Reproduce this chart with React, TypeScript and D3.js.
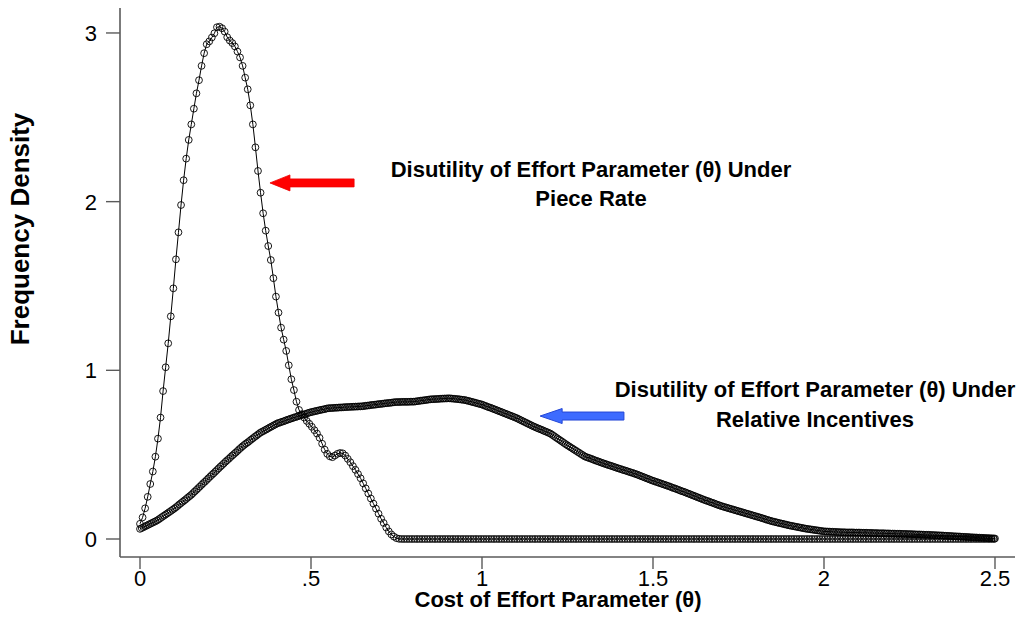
import React from 'react';
import * as d3 from 'd3';

// ---- Axis ticks ----
const xTicks = [0, 0.5, 1, 1.5, 2, 2.5];
const xTickLabels = ['0', '.5', '1', '1.5', '2', '2.5'];
const yTicks = [0, 1, 2, 3];
const yTickLabels = ['0', '1', '2', '3'];

// ---- Piece rate density (evaluated every 0.0075 of theta, starting at 0) ----
const prStep = 0.0075;
const prDensity = [
  0.09, 0.128, 0.182, 0.25, 0.326, 0.40, 0.488, 0.595, 0.72, 0.877,
  1.018, 1.16, 1.32, 1.486, 1.658, 1.818, 1.98, 2.127, 2.255, 2.366,
  2.458, 2.551, 2.642, 2.72, 2.805, 2.88, 2.933, 2.95, 2.973, 2.998,
  3.034, 3.037, 3.028, 3.008, 2.975, 2.955, 2.94, 2.92, 2.89, 2.855,
  2.805, 2.735, 2.666, 2.571, 2.458, 2.322, 2.182, 2.053, 1.931, 1.828,
  1.737, 1.654, 1.546, 1.437, 1.342, 1.253, 1.182, 1.115, 1.03, 0.947,
  0.883, 0.814, 0.765, 0.74, 0.72, 0.70, 0.683, 0.665, 0.645, 0.625,
  0.60, 0.565, 0.53, 0.505, 0.49, 0.485, 0.495, 0.505, 0.51, 0.508,
  0.495, 0.475, 0.455, 0.432, 0.41, 0.385, 0.36, 0.33, 0.30, 0.27,
  0.24, 0.21, 0.18, 0.15, 0.12, 0.095, 0.068, 0.045, 0.027, 0.014,
  0.005, 0.001,
  0, 0, 0, 0, 0, 0, 0, 0, 0, 0, 0, 0, 0, 0, 0, 0, 0, 0, 0, 0,
  0, 0, 0, 0, 0, 0, 0, 0, 0, 0, 0, 0, 0, 0, 0, 0, 0, 0, 0, 0,
  0, 0, 0, 0, 0, 0, 0, 0, 0, 0, 0, 0, 0, 0, 0, 0, 0, 0, 0, 0,
  0, 0, 0, 0, 0, 0, 0, 0, 0, 0, 0, 0, 0, 0, 0, 0, 0, 0, 0, 0,
  0, 0, 0, 0, 0, 0, 0, 0, 0, 0, 0, 0, 0, 0, 0, 0, 0, 0, 0, 0,
  0, 0, 0, 0, 0, 0, 0, 0, 0, 0, 0, 0, 0, 0, 0, 0, 0, 0, 0, 0,
  0, 0, 0, 0, 0, 0, 0, 0, 0, 0, 0, 0, 0, 0, 0, 0, 0, 0, 0, 0,
  0, 0, 0, 0, 0, 0, 0, 0, 0, 0, 0, 0, 0, 0, 0, 0, 0, 0, 0, 0,
  0, 0, 0, 0, 0, 0, 0, 0, 0, 0, 0, 0, 0, 0, 0, 0, 0, 0, 0, 0,
  0, 0, 0, 0, 0, 0, 0, 0, 0, 0, 0, 0, 0, 0, 0, 0, 0, 0, 0, 0,
  0, 0, 0, 0, 0, 0, 0, 0, 0, 0, 0, 0, 0, 0, 0, 0, 0, 0, 0, 0,
  0, 0, 0, 0, 0, 0, 0, 0, 0, 0, 0, 0,
];

// ---- Relative incentives density (evaluated every 0.005 of theta, starting at 0) ----
const riStep = 0.005;
const riDensity = [
  0.060, 0.065, 0.070, 0.075, 0.080, 0.085, 0.090, 0.095, 0.100, 0.105,
  0.110, 0.117, 0.124, 0.131, 0.138, 0.145, 0.152, 0.159, 0.166, 0.173,
  0.180, 0.188, 0.196, 0.205, 0.213, 0.221, 0.229, 0.237, 0.246, 0.254,
  0.262, 0.272, 0.282, 0.291, 0.301, 0.311, 0.321, 0.331, 0.340, 0.350,
  0.360, 0.370, 0.380, 0.389, 0.399, 0.409, 0.419, 0.429, 0.438, 0.448,
  0.458, 0.467, 0.476, 0.486, 0.495, 0.504, 0.513, 0.522, 0.532, 0.541,
  0.550, 0.558, 0.566, 0.573, 0.581, 0.589, 0.597, 0.605, 0.612, 0.620,
  0.628, 0.634, 0.639, 0.645, 0.650, 0.656, 0.662, 0.667, 0.673, 0.678,
  0.684, 0.688, 0.691, 0.695, 0.698, 0.702, 0.706, 0.709, 0.713, 0.716,
  0.720, 0.723, 0.726, 0.730, 0.733, 0.736, 0.739, 0.742, 0.746, 0.749,
  0.752, 0.754, 0.757, 0.759, 0.761, 0.764, 0.766, 0.768, 0.770, 0.773,
  0.775, 0.776, 0.776, 0.777, 0.778, 0.778, 0.779, 0.780, 0.780, 0.781,
  0.782, 0.782, 0.783, 0.783, 0.784, 0.784, 0.785, 0.785, 0.786, 0.786,
  0.787, 0.788, 0.790, 0.791, 0.792, 0.794, 0.795, 0.796, 0.797, 0.799,
  0.800, 0.801, 0.802, 0.804, 0.805, 0.806, 0.807, 0.808, 0.810, 0.811,
  0.812, 0.812, 0.812, 0.813, 0.813, 0.813, 0.813, 0.813, 0.814, 0.814,
  0.814, 0.815, 0.817, 0.818, 0.820, 0.821, 0.822, 0.824, 0.825, 0.827,
  0.828, 0.829, 0.829, 0.830, 0.830, 0.831, 0.832, 0.832, 0.833, 0.833,
  0.834, 0.834, 0.833, 0.832, 0.831, 0.830, 0.829, 0.828, 0.826, 0.825,
  0.824, 0.821, 0.819, 0.816, 0.813, 0.811, 0.808, 0.805, 0.802, 0.800,
  0.797, 0.793, 0.789, 0.785, 0.781, 0.778, 0.774, 0.770, 0.766, 0.762,
  0.758, 0.754, 0.750, 0.746, 0.742, 0.738, 0.734, 0.730, 0.726, 0.722,
  0.718, 0.713, 0.708, 0.703, 0.698, 0.693, 0.688, 0.683, 0.678, 0.673,
  0.668, 0.664, 0.659, 0.655, 0.651, 0.647, 0.642, 0.638, 0.634, 0.629,
  0.625, 0.618, 0.611, 0.604, 0.597, 0.590, 0.583, 0.576, 0.569, 0.562,
  0.555, 0.549, 0.542, 0.536, 0.529, 0.523, 0.516, 0.510, 0.503, 0.497,
  0.490, 0.486, 0.482, 0.479, 0.475, 0.471, 0.467, 0.463, 0.460, 0.456,
  0.452, 0.449, 0.445, 0.442, 0.438, 0.435, 0.432, 0.428, 0.425, 0.421,
  0.418, 0.415, 0.411, 0.408, 0.405, 0.402, 0.398, 0.395, 0.392, 0.388,
  0.385, 0.381, 0.377, 0.373, 0.369, 0.365, 0.361, 0.357, 0.353, 0.349,
  0.345, 0.342, 0.338, 0.335, 0.331, 0.328, 0.324, 0.321, 0.317, 0.314,
  0.310, 0.306, 0.302, 0.299, 0.295, 0.291, 0.287, 0.283, 0.280, 0.276,
  0.272, 0.268, 0.264, 0.260, 0.256, 0.252, 0.248, 0.244, 0.240, 0.236,
  0.232, 0.228, 0.225, 0.221, 0.217, 0.214, 0.210, 0.206, 0.202, 0.199,
  0.195, 0.192, 0.189, 0.186, 0.183, 0.180, 0.177, 0.174, 0.171, 0.168,
  0.165, 0.162, 0.159, 0.156, 0.153, 0.150, 0.147, 0.144, 0.141, 0.138,
  0.135, 0.132, 0.129, 0.126, 0.123, 0.120, 0.116, 0.113, 0.110, 0.107,
  0.104, 0.102, 0.099, 0.097, 0.094, 0.092, 0.090, 0.087, 0.085, 0.082,
  0.080, 0.078, 0.076, 0.074, 0.072, 0.070, 0.068, 0.066, 0.064, 0.062,
  0.060, 0.059, 0.057, 0.056, 0.054, 0.053, 0.051, 0.050, 0.048, 0.047,
  0.045, 0.045, 0.044, 0.044, 0.043, 0.043, 0.042, 0.042, 0.041, 0.041,
  0.040, 0.040, 0.040, 0.039, 0.039, 0.039, 0.039, 0.039, 0.038, 0.038,
  0.038, 0.038, 0.037, 0.037, 0.037, 0.037, 0.036, 0.036, 0.036, 0.035,
  0.035, 0.035, 0.034, 0.034, 0.034, 0.034, 0.033, 0.033, 0.033, 0.032,
  0.032, 0.032, 0.031, 0.031, 0.031, 0.031, 0.030, 0.030, 0.030, 0.029,
  0.029, 0.029, 0.028, 0.028, 0.027, 0.027, 0.027, 0.026, 0.026, 0.025,
  0.025, 0.025, 0.024, 0.024, 0.023, 0.023, 0.022, 0.022, 0.021, 0.021,
  0.020, 0.019, 0.019, 0.018, 0.018, 0.017, 0.016, 0.016, 0.015, 0.015,
  0.014, 0.013, 0.013, 0.012, 0.012, 0.011, 0.010, 0.010, 0.009, 0.009,
  0.008, 0.008, 0.007, 0.007, 0.006, 0.006, 0.005, 0.005, 0.004, 0.004,
  0.003,
];

// ---- Annotation texts ----
const prLabelLines = ['Disutility of Effort Parameter (θ) Under', 'Piece Rate'];
const riLabelLines = ['Disutility of Effort Parameter (θ) Under', 'Relative Incentives'];
const xTitle = 'Cost of Effort Parameter (θ)';
const yTitle = 'Frequency Density';

const FONT = '"Liberation Sans", Arial, Helvetica, sans-serif';

function arrowPath(tx: number, ty: number, ex: number, headLen: number, headH: number, shaftH: number) {
  const p = d3.path();
  p.moveTo(tx, ty);
  p.lineTo(tx + headLen, ty - headH / 2);
  p.lineTo(tx + headLen, ty - shaftH / 2);
  p.lineTo(ex, ty - shaftH / 2);
  p.lineTo(ex, ty + shaftH / 2);
  p.lineTo(tx + headLen, ty + shaftH / 2);
  p.lineTo(tx + headLen, ty + headH / 2);
  p.closePath();
  return p.toString();
}

export default function App() {
  const W = 1022;
  const H = 618;
  const x = d3.scaleLinear().domain([-0.0585, 2.5585]).range([120, 1015]);
  const y = d3.scaleLinear().domain([-0.1067, 3.148]).range([557, 8]);

  const prPts: [number, number][] = prDensity.map((v, i) => [i * prStep, v]);
  const riPts: [number, number][] = riDensity.map((v, i) => [i * riStep, v]);
  const line = d3.line<[number, number]>().x((d) => x(d[0])).y((d) => y(d[1]));

  const axisColor = '#5a5a5a';
  const r = 3.4;

  return (
    <svg
      width={W}
      height={H}
      viewBox={`0 0 ${W} ${H}`}
      style={{ position: 'absolute', left: 0, top: 0, background: '#fff' }}
      fontFamily={FONT}
    >
      <rect x={0} y={0} width={W} height={H} fill="#fff" />

      {/* axes */}
      <line x1={x.range()[0]} x2={x.range()[0]} y1={y.range()[1]} y2={y.range()[0]} stroke={axisColor} strokeWidth={1.6} />
      <line x1={x.range()[0]} x2={x.range()[1]} y1={y.range()[0]} y2={y.range()[0]} stroke={axisColor} strokeWidth={1.6} />

      {yTicks.map((t, i) => (
        <g key={'yt' + i}>
          <line x1={x.range()[0] - 14} x2={x.range()[0]} y1={y(t)} y2={y(t)} stroke={axisColor} strokeWidth={1.4} />
          <text x={x.range()[0] - 23} y={y(t)} dy="0.36em" textAnchor="end" fontSize={22} fill="#000">
            {yTickLabels[i]}
          </text>
        </g>
      ))}
      {xTicks.map((t, i) => (
        <g key={'xt' + i}>
          <line x1={x(t)} x2={x(t)} y1={y.range()[0]} y2={y.range()[0] + 12} stroke={axisColor} strokeWidth={1.4} />
          <text x={x(t)} y={y.range()[0] + 29} textAnchor="middle" fontSize={22} fill="#000">
            {xTickLabels[i]}
          </text>
        </g>
      ))}

      {/* axis titles */}
      <text x={558} y={607} textAnchor="middle" fontSize={22} fontWeight="bold" fill="#000">
        {xTitle}
      </text>
      <text transform="translate(29,229) rotate(-90)" textAnchor="middle" fontSize={26} fontWeight="bold" fill="#000">
        {yTitle}
      </text>

      {/* relative incentives */}
      <path d={line(riPts) || ''} fill="none" stroke="#000" strokeWidth={1} />
      {riPts.map((d, i) => (
        <circle key={'ri' + i} cx={x(d[0])} cy={y(d[1])} r={r} fill="none" stroke="#000" strokeWidth={0.9} />
      ))}

      {/* piece rate */}
      <path d={line(prPts) || ''} fill="none" stroke="#000" strokeWidth={1} />
      {prPts.map((d, i) => (
        <circle key={'pr' + i} cx={x(d[0])} cy={y(d[1])} r={r} fill="none" stroke="#000" strokeWidth={0.9} />
      ))}

      {/* arrows */}
      <path d={arrowPath(x(0.38), y(2.111), x(0.626), 20, 16, 8)} fill="#ff0000" stroke="#ee0000" strokeWidth={0.8} />
      <path d={arrowPath(x(1.17), y(0.729), x(1.415), 22, 15, 8)} fill="#3d6bff" stroke="#2447d6" strokeWidth={1} />

      {/* annotations */}
      {prLabelLines.map((s, i) => (
        <text key={'pl' + i} x={x(1.3187)} y={y(2.146) + i * 29} textAnchor="middle" fontSize={22} fontWeight="bold" fill="#000">
          {s}
        </text>
      ))}
      {riLabelLines.map((s, i) => (
        <text key={'rl' + i} x={x(1.9737)} y={y(0.842) + i * 30} textAnchor="middle" fontSize={22} fontWeight="bold" fill="#000">
          {s}
        </text>
      ))}
    </svg>
  );
}
